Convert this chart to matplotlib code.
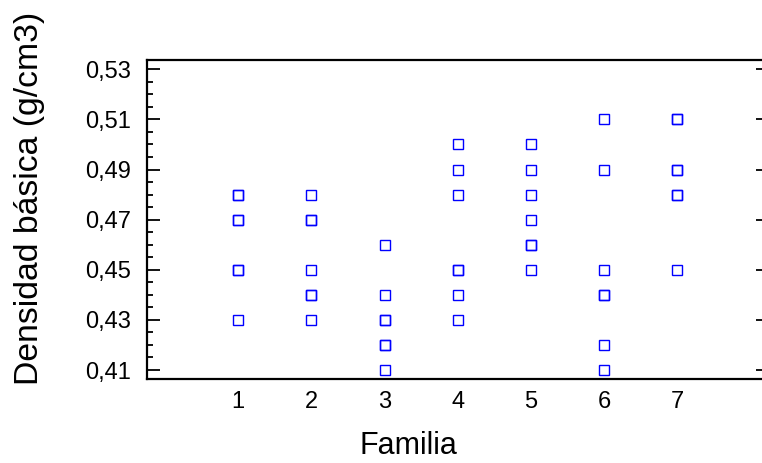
import matplotlib
matplotlib.use("Agg")
import matplotlib.pyplot as plt
from matplotlib.ticker import FuncFormatter, MultipleLocator, FixedLocator

plt.rcParams["font.family"] = ["Liberation Sans", "DejaVu Sans"]

# Densidad básica por familia (puntos repetidos = observaciones superpuestas)
familias = [1, 2, 3, 4, 5, 6, 7]
densidad = {
    1: [0.48, 0.48, 0.47, 0.47, 0.45, 0.45, 0.43],
    2: [0.48, 0.47, 0.47, 0.45, 0.44, 0.44, 0.43],
    3: [0.46, 0.44, 0.43, 0.43, 0.42, 0.42, 0.41],
    4: [0.50, 0.49, 0.48, 0.45, 0.45, 0.44, 0.43],
    5: [0.50, 0.49, 0.48, 0.47, 0.46, 0.46, 0.45],
    6: [0.51, 0.49, 0.45, 0.44, 0.44, 0.42, 0.41],
    7: [0.51, 0.51, 0.49, 0.49, 0.48, 0.48, 0.45],
}
y_ticks = [0.41, 0.43, 0.45, 0.47, 0.49, 0.51, 0.53]

W, H = 762, 463
fig = plt.figure(figsize=(W / 100, H / 100), dpi=100)
# el eje derecho queda un poco fuera de la imagen, como en el original
left, right, top, bottom = 146.7, 768.7, 60.0, 379.3
ax = fig.add_axes([left / W, 1 - bottom / H, (right - left) / W, (bottom - top) / H])

for f in familias:
    ys = densidad[f]
    ax.plot([f] * len(ys), ys, linestyle="none", marker="s", markersize=6.6,
            markerfacecolor="none", markeredgecolor="#0000ff", markeredgewidth=1.0)

ax.set_xlim(-0.25, 8.25)
ax.set_ylim(0.4063, 0.5337)

ax.xaxis.set_major_locator(FixedLocator(familias))
ax.yaxis.set_major_locator(FixedLocator(y_ticks))
ax.yaxis.set_minor_locator(MultipleLocator(0.005))
ax.yaxis.set_major_formatter(FuncFormatter(lambda v, _: f"{v:.2f}".replace(".", ",")))

ax.tick_params(axis="y", which="major", direction="in", length=9.5, width=1.3,
               left=True, right=True, labelsize=17, pad=11.5)
ax.tick_params(axis="y", which="minor", direction="in", length=4.5, width=1.3,
               left=True, right=True)
ax.tick_params(axis="x", which="both", length=0, labelsize=17, pad=8.5)

for sp in ax.spines.values():
    sp.set_linewidth(1.6)

fig.text(408 / W, 1 - 446 / H, "Familia", fontsize=22, ha="center", va="center")
fig.text(30 / W, 1 - 198 / H, "Densidad básica (g/cm3)", fontsize=24.3,
         rotation=90, ha="center", va="center")

fig.savefig("out.png", dpi=100)
